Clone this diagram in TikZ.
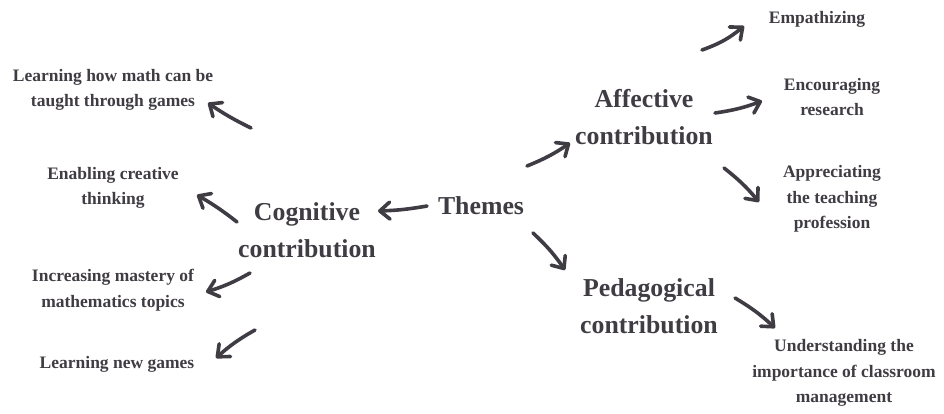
\documentclass[tikz,border=0pt]{standalone}
\usepackage{fontspec}
\setmainfont{Liberation Serif}
\usetikzlibrary{arrows.meta}
\definecolor{ink}{RGB}{64,60,68}
\begin{document}
\begin{tikzpicture}[x=1pt,y=-1pt,
  big/.style={font=\fontsize{25.8}{37}\selectfont\bfseries, align=center, text=ink, inner sep=0pt},
  small/.style={font=\fontsize{17.5}{25.5}\selectfont\bfseries, align=center, text=ink, inner sep=0pt},
  arr/.style={draw=ink, line width=3.6pt, line cap=round,
    -{Straight Barb[length=10pt,width=17pt,line width=3.6pt,round]}}]
\useasboundingbox[fill=white] (0,0) rectangle (944,414);
% main nodes
\node[big] (themes) at (481,206) {Themes};
\node[big] (cog) at (307,230) {Cognitive\\contribution};
\node[big] (aff) at (644,117) {Affective\\contribution};
\node[big] (ped) at (649,306) {Pedagogical\\contribution};
% right leaves
\node[small] (emp) at (817,19) {Empathizing};
\node[small] (enc) at (832,97) {Encouraging\\research};
\node[small] (app) at (832,199) {Appreciating\\the teaching\\profession};
\node[small] (und) at (844,373) {Understanding the\\importance of classroom\\management};
% left leaves
\node[small] (lm) at (113,90) {Learning how math can be\\taught through games};
\node[small] (en) at (113,188) {Enabling creative\\thinking};
\node[small] (inc) at (113,290) {Increasing mastery of\\mathematics topics};
\node[small] (lng) at (117,364) {Learning new games};
% connectors
\draw[arr] ([shift={(-54,0)}]themes.center) to[bend left=4] ([shift={(71,-19)}]cog.center);
\draw[arr] ([shift={(46,-40)}]themes.center) to[bend right=6] ([shift={(-74,26)}]aff.center);
\draw[arr] ([shift={(52,27)}]themes.center) to[bend left=6] ([shift={(-84,-36)}]ped.center);
\draw[arr] ([shift={(58,-67)}]aff.center) to[bend right=10] ([shift={(-73,7)}]emp.center);
\draw[arr] ([shift={(71,-4)}]aff.center) to[bend right=6] ([shift={(-70,4)}]enc.center);
\draw[arr] ([shift={(80,51)}]aff.center) to[bend left=6] ([shift={(-73,3)}]app.center);
\draw[arr] ([shift={(86,-8)}]ped.center) to[bend left=6] ([shift={(-69,-45)}]und.center);
\draw[arr] ([shift={(-56,-102)}]cog.center) to[bend left=4] ([shift={(95,13)}]lm.center);
\draw[arr] ([shift={(-70,-8)}]cog.center) to[bend right=4] ([shift={(84,7)}]en.center);
\draw[arr] ([shift={(-57,43)}]cog.center) to[bend left=6] ([shift={(93,2)}]inc.center);
\draw[arr] ([shift={(-52,100)}]cog.center) to[bend right=6] ([shift={(99,-6)}]lng.center);
\end{tikzpicture}
\end{document}
